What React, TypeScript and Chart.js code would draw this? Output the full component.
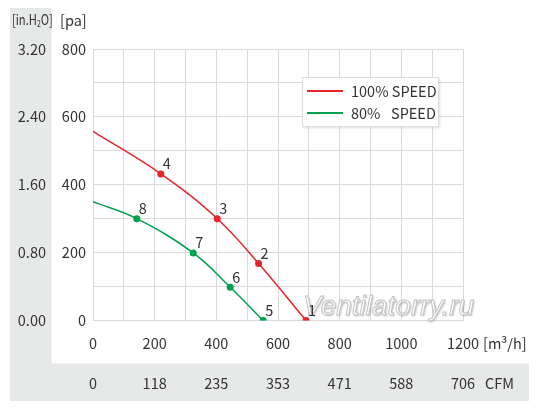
import { useEffect, useRef } from 'react';
import Chart from 'chart.js/auto';

// values
const flowRed = [0, 220, 403, 537, 691];
const pressRed = [557, 432, 300, 168, 0];
const namesRed = ['', '4', '3', '2', '1'];

const flowGreen = [0, 142, 325, 445, 552];
const pressGreen = [350, 300, 199, 98, 0];
const namesGreen = ['', '8', '7', '6', '5'];

const cfmLabels = ['0', '118', '235', '353', '471', '588', '706'];
const inchLabels = ['0.00', '0.80', '1.60', '2.40', '3.20'];

const seriesNames = ['100% SPEED', '80%   SPEED'];

const RED = '#e8242c';
const GREEN = '#00a04e';
const TEXT = '#333333';
const GRID = '#dadada';
const BAND = '#e7e8e8';
const FONT = '"Noto Sans CJK JP", "Noto Sans", sans-serif';
const SIZE = 14.5;

const backdrop = {
  id: 'backdrop',
  beforeDraw(chart: any) {
    const { ctx } = chart;
    ctx.save();
    ctx.fillStyle = BAND;
    ctx.fillRect(10, 8, 41.5, 393);
    ctx.fillRect(10, 363.5, 519, 37.5);
    ctx.restore();
  },
  afterDraw(chart: any) {
    const { ctx } = chart;
    ctx.save();
    ctx.fillStyle = TEXT;
    ctx.textBaseline = 'middle';
    // [in.H2O], a bit condensed
    ctx.save();
    ctx.translate(12, 20);
    ctx.scale(0.8, 1);
    ctx.font = `14px ${FONT}`;
    let x = 0;
    ctx.fillText('[in.H', x, 0);
    x += ctx.measureText('[in.H').width;
    ctx.font = `8.5px ${FONT}`;
    ctx.fillText('2', x, 4);
    x += ctx.measureText('2').width;
    ctx.font = `14px ${FONT}`;
    ctx.fillText('O]', x, 0);
    ctx.restore();

    ctx.font = `${SIZE}px ${FONT}`;
    ctx.fillText('[pa]', 60, 20);
    ctx.fillText('[m\u00b3/h]', 483, 343);
    ctx.fillText('CFM', 485, 383);
    ctx.restore();
  },
};

const decorations = {
  id: 'decorations',
  afterDatasetsDraw(chart: any) {
    const { ctx } = chart;
    ctx.save();
    // watermark
    ctx.font = `italic 28px "Liberation Sans", sans-serif`;
    ctx.textBaseline = 'alphabetic';
    ctx.shadowColor = 'rgba(0,0,0,0.3)';
    ctx.shadowBlur = 2;
    ctx.shadowOffsetX = 1;
    ctx.shadowOffsetY = 1;
    ctx.fillStyle = '#ffffff';
    ctx.fillText('Ventilatorry.ru', 303, 315);
    ctx.shadowColor = 'transparent';
    ctx.strokeStyle = '#c4c4c4';
    ctx.lineWidth = 1;
    ctx.strokeText('Ventilatorry.ru', 303, 315);

    // point numbers
    ctx.font = `${SIZE}px ${FONT}`;
    ctx.fillStyle = TEXT;
    ctx.textAlign = 'center';
    ctx.textBaseline = 'middle';
    [namesRed, namesGreen].forEach((names, di) => {
      const meta = chart.getDatasetMeta(di);
      meta.data.forEach((pt: any, i: number) => {
        if (names[i]) ctx.fillText(names[i], pt.x + 6, pt.y - 10);
      });
    });

    // legend
    ctx.fillStyle = '#ffffff';
    ctx.shadowColor = 'rgba(0,0,0,0.12)';
    ctx.shadowBlur = 2;
    ctx.fillRect(302, 77, 137, 50);
    ctx.shadowColor = 'transparent';
    ctx.strokeStyle = '#dedede';
    ctx.lineWidth = 1;
    ctx.strokeRect(302.5, 77.5, 136, 49);
    ctx.lineWidth = 2;
    ctx.strokeStyle = RED;
    ctx.beginPath();
    ctx.moveTo(307, 91);
    ctx.lineTo(343, 91);
    ctx.stroke();
    ctx.strokeStyle = GREEN;
    ctx.beginPath();
    ctx.moveTo(307, 113);
    ctx.lineTo(343, 113);
    ctx.stroke();
    ctx.font = `${SIZE}px ${FONT}`;
    ctx.fillStyle = TEXT;
    ctx.textAlign = 'left';
    ctx.fillText(seriesNames[0], 351, 91);
    const [pct, word] = seriesNames[1].split(/\s+/);
    ctx.fillText(pct, 351, 113);
    ctx.fillText(word, 391, 113);
    ctx.restore();
  },
};

export default function App() {
  const canvasRef = useRef<HTMLCanvasElement>(null);
  const chartRef = useRef<Chart | null>(null);

  useEffect(() => {
    if (!canvasRef.current) return;
    if (chartRef.current) chartRef.current.destroy();

    const tickFont = { family: FONT, size: SIZE };

    chartRef.current = new Chart(canvasRef.current, {
      type: 'line',
      data: {
        datasets: [
          {
            label: seriesNames[0],
            data: flowRed.map((f, i) => ({ x: f, y: pressRed[i] })),
            borderColor: RED,
            backgroundColor: RED,
            borderWidth: 1.5,
            pointRadius: namesRed.map(n => (n ? 3.5 : 0)),
            pointBorderWidth: 0,
            tension: 0.4,
            fill: false,
          },
          {
            label: seriesNames[1],
            data: flowGreen.map((f, i) => ({ x: f, y: pressGreen[i] })),
            borderColor: GREEN,
            backgroundColor: GREEN,
            borderWidth: 1.5,
            pointRadius: namesGreen.map(n => (n ? 3.5 : 0)),
            pointBorderWidth: 0,
            tension: 0.4,
            fill: false,
          },
        ],
      },
      options: {
        responsive: true,
        maintainAspectRatio: false,
        animation: false,
        layout: { padding: { left: 10, top: 49, right: 76, bottom: 10 } },
        plugins: {
          legend: { display: false },
          tooltip: { enabled: false },
        },
        scales: {
          x: {
            type: 'linear',
            position: 'bottom',
            min: 0,
            max: 1200,
            weight: 0,
            afterFit: (s: any) => { s.height = 43; },
            grid: { color: GRID, drawTicks: false },
            border: { color: GRID },
            ticks: {
              stepSize: 100,
              autoSkip: false,
              maxRotation: 0,
              padding: 14,
              color: TEXT,
              font: tickFont,
              callback: (v: any) => (v % 200 === 0 ? String(v) : ''),
            },
          },
          x2: {
            type: 'linear',
            position: 'bottom',
            min: 0,
            max: 1200,
            weight: 1,
            afterFit: (s: any) => { s.height = 37.5; },
            grid: { display: false, drawTicks: false },
            border: { display: false },
            ticks: {
              stepSize: 100,
              autoSkip: false,
              maxRotation: 0,
              padding: 11,
              color: TEXT,
              font: tickFont,
              callback: (v: any) => (v % 200 === 0 ? cfmLabels[v / 200] : ''),
            },
          },
          y: {
            type: 'linear',
            position: 'left',
            min: 0,
            max: 800,
            weight: 0,
            afterFit: (s: any) => { s.width = 41.5; },
            grid: { color: GRID, drawTicks: false },
            border: { color: GRID },
            ticks: {
              stepSize: 100,
              autoSkip: false,
              padding: 7,
              color: TEXT,
              font: tickFont,
              callback: (v: any) => (v % 200 === 0 ? String(v) : ''),
            },
          },
          y2: {
            type: 'linear',
            position: 'left',
            min: 0,
            max: 800,
            weight: 1,
            afterFit: (s: any) => { s.width = 41.5; },
            grid: { display: false, drawTicks: false },
            border: { display: false },
            ticks: {
              stepSize: 100,
              autoSkip: false,
              padding: 5.5,
              color: TEXT,
              font: tickFont,
              callback: (v: any) => (v % 200 === 0 ? inchLabels[v / 200] : ''),
            },
          },
        },
      },
      plugins: [backdrop, decorations],
    });

    return () => {
      if (chartRef.current) {
        chartRef.current.destroy();
        chartRef.current = null;
      }
    };
  }, []);

  return (
    <div style={{ position: 'fixed', left: 0, top: 0, width: 539, height: 411, background: '#fff' }}>
      <canvas ref={canvasRef}></canvas>
    </div>
  );
}
